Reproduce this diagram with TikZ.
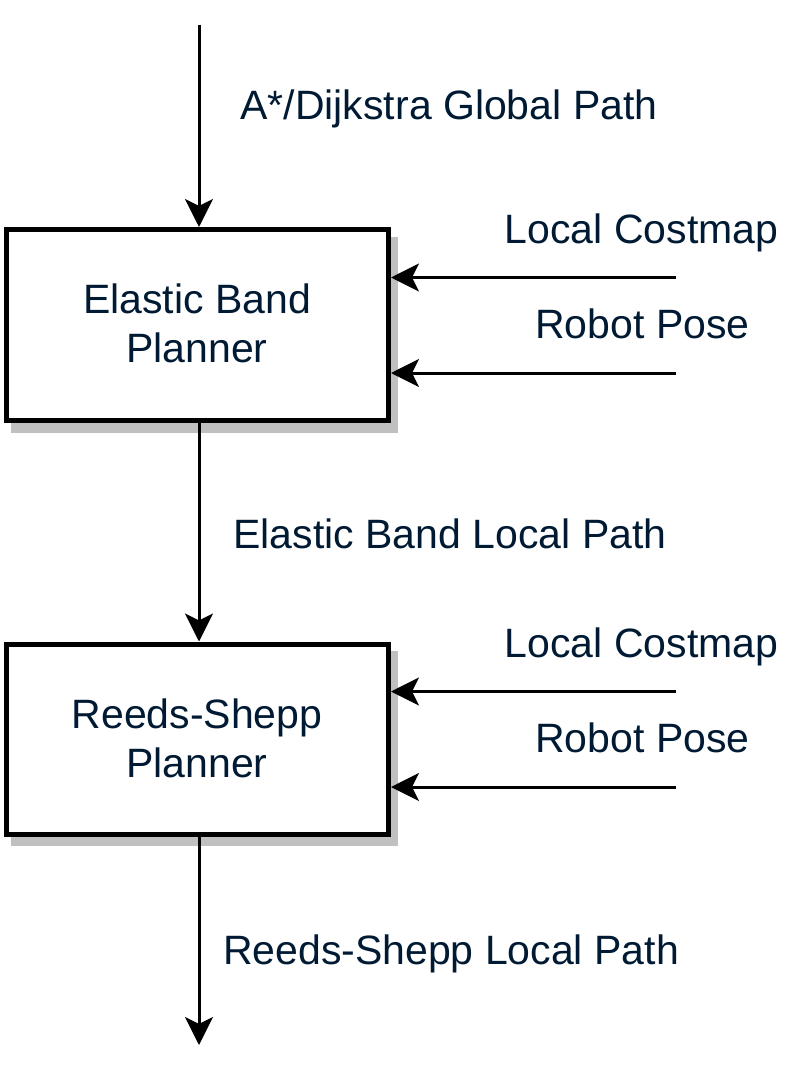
\documentclass[tikz,border=0pt]{standalone}
\usepackage{fontspec}
\setmainfont{Liberation Sans}
\usetikzlibrary{arrows.meta,backgrounds}
\definecolor{txtnavy}{RGB}{0,26,51}
\definecolor{shadowgray}{RGB}{192,192,192}
\tikzset{
  planbox/.style={draw=black, line width=5pt, fill=white, minimum width=382pt, inner sep=0pt},
  arr/.style={line width=3pt, -{Stealth[length=28pt,width=28pt,inset=7pt]}},
  lbl/.style={anchor=base, text=txtnavy, inner sep=0pt, font=\fontsize{41}{49}\selectfont},
}
\begin{document}
\begin{tikzpicture}[x=1pt,y=-1pt]
\useasboundingbox (0,0) rectangle (790,1073);
% boxes
\node[planbox, minimum height=191pt] (eb) at (197.5,325) {};
\node[planbox, minimum height=190pt] (rs) at (197.5,739) {};
\begin{scope}[on background layer]
\fill[shadowgray] ([xshift=6.5pt,yshift=-9.5pt]eb.south west) rectangle ([xshift=6.5pt,yshift=-9.5pt]eb.north east);
\fill[shadowgray] ([xshift=6.5pt,yshift=-9.5pt]rs.south west) rectangle ([xshift=6.5pt,yshift=-9.5pt]rs.north east);
\end{scope}
% box texts
\node[lbl] (ebt1) at (197,313) {Elastic Band};
\node[lbl] (ebt2) at (197,362) {Planner};
\node[lbl] (rst1) at (197,728) {Reeds-Shepp};
\node[lbl] (rst2) at (197,777) {Planner};
% labels
\node[lbl] (gp) at (449,119) {A*/Dijkstra Global Path};
\node[lbl] (ebl) at (450,548) {Elastic Band Local Path};
\node[lbl] (rsl) at (451,964) {Reeds-Shepp Local Path};
\node[lbl] (lc1) at (641.5,243) {Local Costmap};
\node[lbl] (rp1) at (642.5,338) {Robot Pose};
\node[lbl] (lc2) at (641.5,657) {Local Costmap};
\node[lbl] (rp2) at (642.5,752) {Robot Pose};
% connector ends
\coordinate (top) at (199,25);
\coordinate (bot) at (199,1045);
\coordinate (in1) at (676,277.5);
\coordinate (in2) at (676,373);
\coordinate (in3) at (676,691.5);
\coordinate (in4) at (676,787);
% connectors
\draw[arr] (top) -- (top |- eb.north);
\draw[arr] (top |- eb.south) -- (top |- rs.north);
\draw[arr] (top |- rs.south) -- (bot);
\draw[arr] (in1) -- (in1 -| eb.east);
\draw[arr] (in2) -- (in2 -| eb.east);
\draw[arr] (in3) -- (in3 -| rs.east);
\draw[arr] (in4) -- (in4 -| rs.east);
\end{tikzpicture}
\end{document}
